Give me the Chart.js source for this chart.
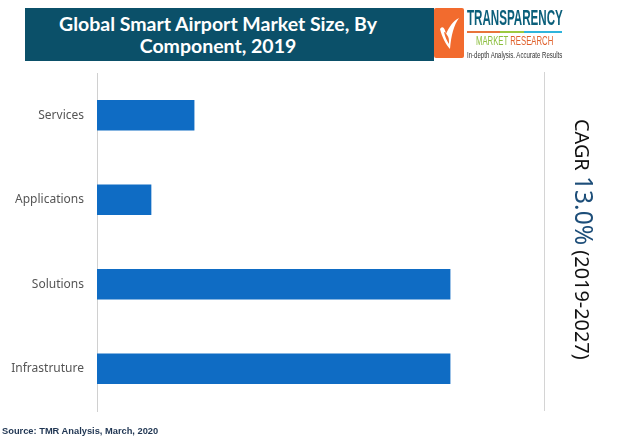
<!DOCTYPE html>
<html>
<head>
<meta charset="utf-8">
<script src="https://cdn.jsdelivr.net/npm/chart.js@4"></script>
<style>
  html, body { margin: 0; padding: 0; background: #fff; }
  #wrap { position: relative; width: 631px; height: 439px; overflow: hidden; }
  #chart { position: absolute; left: 0; top: 0; }
  #banner {
    position: absolute; left: 25px; top: 8px; width: 409px; height: 53px; box-sizing: border-box; padding-top: 5px;
    background: #0b5069; color: #fff;
    font: 700 19.5px/22px Lato, sans-serif;
  }
  #banner div { width: 386px; text-align: center; }
  #logo-mark { position: absolute; left: 434px; top: 8px; width: 30px; height: 50px; background: #f26b2e; border-radius: 2px; }
  #logo-mark svg { position: absolute; left: 5px; top: 9px; }
  .logo { position: absolute; white-space: nowrap; transform-origin: left top; }
  #logo1 { left: 467px; top: 5px; font: 700 22px/26px "Liberation Sans Narrow", "Liberation Sans", sans-serif; color: #0b5f7a; transform: scaleX(.527); }
  #rule { position: absolute; left: 467px; top: 31px; width: 95px; height: 1.5px; background: linear-gradient(90deg, #e8743b 0 35%, #9cc93f 35% 60%, #2fb4dc 60%); }
  #logo2 { left: 476px; top: 33px; font: 400 13px/15px "Liberation Sans", sans-serif; color: #8cbf3f; transform: scaleX(.595); }
  #logo2 span { color: #e0622d; }
  #logo3 { left: 467px; top: 49px; font: 400 9.5px/11px "Liberation Sans", sans-serif; color: #333; transform: scaleX(.64); }
  #divider { position: absolute; left: 544px; top: 72px; width: 1px; height: 339px; background: #d4d4d4; }
  #cagr {
    position: absolute; left: 596px; top: 119px; white-space: nowrap; color: #111;
    font: 400 19.9px/24px "Noto Sans", sans-serif; transform-origin: left top; transform: rotate(90deg);
  }
  #cagr span { color: #1d4e79; font-size: 24.6px; }
  #source { position: absolute; left: 2px; top: 426px; font: 700 9.3px/11px "Liberation Sans", sans-serif; color: #1f3552; white-space: nowrap; }
</style>
</head>
<body>
<div id="wrap">
  <canvas id="chart" width="631" height="439"></canvas>
  <div id="banner"><div>Global Smart Airport Market Size, By<br>Component, 2019</div></div>
  <div id="logo-mark">
    <svg width="21" height="34" viewBox="0 0 21 34"><path d="M1 12 C4 8 6 12 7 17 C10 10 14 4 20 1 C15 8 12 18 11 32 C7 28 3 20 1 12Z M5 15 C6 20 8 24 10 27 C10 23 10 20 8 18 C7 16 6 15 5 15Z" fill="#fff" fill-rule="evenodd"/></svg>
  </div>
  <div class="logo" id="logo1">TRANSPARENCY</div>
  <div id="rule"></div>
  <div class="logo" id="logo2">MARKET <span>RESEARCH</span></div>
  <div class="logo" id="logo3">In-depth Analysis. Accurate Results</div>
  <div id="divider"></div>
  <div id="cagr">CAGR <span>13.0%</span> (2019-2027)</div>
  <div id="source">Source: TMR Analysis, March, 2020</div>
</div>
<script>
// Bar lengths have no printed axis, so values are relative to the longest bar (= 100).
const categories = ["Services", "Applications", "Solutions", "Infrastruture"];
const marketSize = [27.5, 15.3, 100, 100];
const axisMax = 126.6;

new Chart(document.getElementById("chart"), {
  type: "bar",
  data: {
    labels: categories,
    datasets: [{
      data: marketSize,
      backgroundColor: "#0f6cc4",
      borderWidth: 0,
      barThickness: 30,
    }],
  },
  options: {
    indexAxis: "y",
    responsive: false,
    animation: false,
    layout: { padding: { top: 73, bottom: 28, right: 87, left: 0 } },
    scales: {
      x: { display: false, min: 0, max: axisMax },
      y: {
        afterFit: (scale) => { scale.width = 97; },
        grid: { display: false, drawTicks: false },
        border: { display: true, color: "#d0d0d0", width: 1 },
        ticks: {
          color: "#555",
          padding: 13,
          font: { family: "'Noto Sans'", size: 12 },
        },
      },
    },
    plugins: { legend: { display: false }, tooltip: { enabled: false } },
  },
});
</script>
</body>
</html>
